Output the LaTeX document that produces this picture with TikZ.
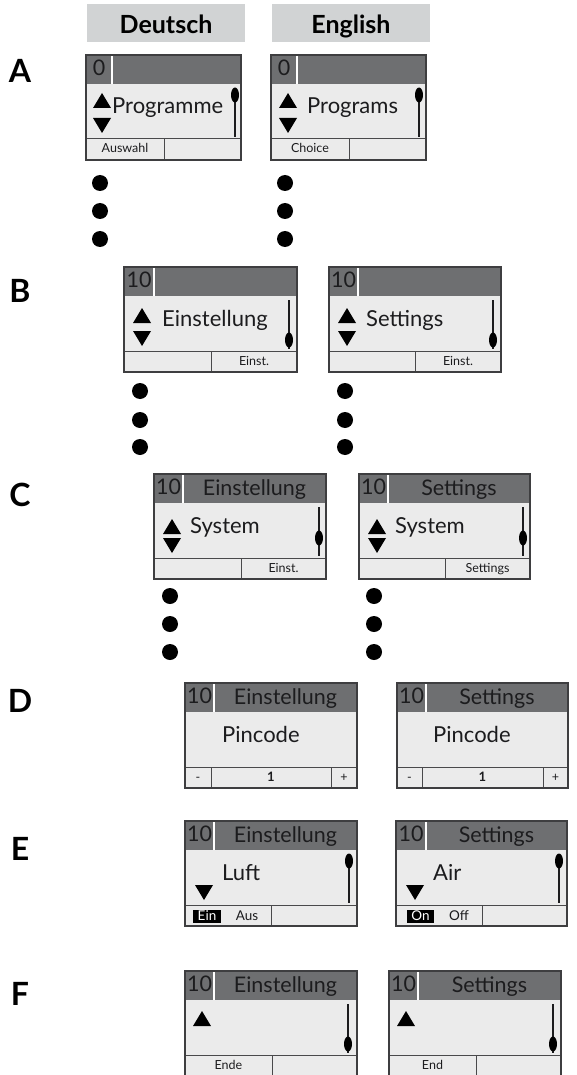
\documentclass[tikz,border=0pt]{standalone}
\usepackage{fontspec}
\setmainfont{Lato}
\definecolor{lcdhead}{RGB}{110,111,113}
\definecolor{lcdbody}{RGB}{235,235,235}
\definecolor{tabgray}{RGB}{209,211,212}
\definecolor{ink}{RGB}{28,28,30}

\tikzset{
  lcdedge/.style={draw=ink!85, line width=1.3pt},
  lcdrule/.style={draw=ink!80, line width=1pt},
  scrollline/.style={draw=ink, line width=1.3pt},
  hdtxt/.style={font=\fontsize{21.5}{25}\selectfont, text=ink, inner sep=0pt, anchor=base},
  bodytxt/.style={font=\fontsize{22}{26}\selectfont, text=ink, inner sep=0pt, anchor=base west},
  softtxt/.style={font=\fontsize{12.5}{14}\selectfont, text=ink, inner sep=0pt, anchor=base},
  toggletxt/.style={font=\fontsize{13.5}{15}\selectfont, text=ink, inner sep=0pt, anchor=base},
  rowlbl/.style={font=\fontsize{32}{36}\selectfont\bfseries, text=black, inner sep=0pt, anchor=base},
  langlbl/.style={font=\fontsize{25}{30}\selectfont\bfseries, text=black, inner sep=0pt, anchor=base},
  dotmark/.style={fill=black},
}

% display panel: #1 id, #2 width, #3 number cell width, #4 number
\newcommand{\lcdframe}[4]{%
  \fill[lcdbody] (0,0) rectangle (#2,105);
  \fill[lcdhead] (0,0) rectangle (#2,29);
  \draw[white, line width=1.5pt] (#3,0) -- (#3,29);
  \draw[lcdrule] (0,84) -- (#2,84);
  \node[hdtxt] (#1-num) at ({#3/2},20.5) {#4};
}
% header title centred in the space right of the number cell
\newcommand{\lcdtitle}[4]{%
  \node[hdtxt] (#1-title) at ({(#2+#3)/2},21) {#4};
}
% main line of the body
\newcommand{\lcdline}[3]{%
  \node[bodytxt] (#1-line) at (#2,59) {#3};
}
% arrows: #1 left x, #2 top y
\newcommand{\lcdup}[2]{\fill[black] ({#1+9},#2) -- ++(9,15) -- ++(-18,0) -- cycle;}
\newcommand{\lcddown}[2]{\fill[black] (#1,#2) -- ++(18,0) -- ++(-9,15) -- cycle;}
% scroll bar: #1 x, #2 knob centre y
\newcommand{\lcdscroll}[2]{%
  \draw[scrollline] (#1,33) -- (#1,82);
  \fill[black] (#1,#2) ellipse (4 and 7.5);
}
\newcommand{\lcdsplit}[1]{\draw[lcdrule] (#1,84) -- (#1,105);}
\newcommand{\lcdclose}[1]{\draw[lcdedge] (0,0) rectangle (#1,105);}

\begin{document}
\begin{tikzpicture}[x=1pt, y=-1pt]
\useasboundingbox (0,0) rectangle (576,1075);

% language tabs
\fill[tabgray] (87,4) rectangle (245,42);
\node[langlbl] (de) at (166,34) {Deutsch};
\fill[tabgray] (272,4) rectangle (430,42);
\node[langlbl] (en) at (351,34) {English};

% step letters
\node[rowlbl] (rowA) at (20,83) {A};
\node[rowlbl] (rowB) at (20,302) {B};
\node[rowlbl] (rowC) at (20,506) {C};
\node[rowlbl] (rowD) at (20,712) {D};
\node[rowlbl] (rowE) at (20,860) {E};
\node[rowlbl] (rowF) at (20,1005) {F};

% ---- A ----
\begin{scope}[shift={(86,55)}]
  \lcdframe{aL}{155}{26}{0}
  \lcdup{7}{38}\lcddown{7}{63}
  \lcdline{aL}{26}{Programme}
  \lcdscroll{149}{40}
  \lcdsplit{78}
  \node[softtxt] (aL-soft) at (39,98) {Auswahl};
  \lcdclose{155}
\end{scope}
\begin{scope}[shift={(271,55)}]
  \lcdframe{aR}{155}{26}{0}
  \lcdup{8}{38}\lcddown{8}{63}
  \lcdline{aR}{36}{Programs}
  \lcdscroll{148}{40}
  \lcdsplit{78}
  \node[softtxt] (aR-soft) at (39,98) {Choice};
  \lcdclose{155}
\end{scope}

% ---- B ----
\begin{scope}[shift={(124,267)}]
  \lcdframe{bL}{173}{30}{10}
  \lcdup{9}{41}\lcddown{9}{64}
  \lcdline{bL}{38}{Einstellung}
  \lcdscroll{165}{73}
  \lcdsplit{87}
  \node[softtxt] (bL-soft) at (130,98) {Einst.};
  \lcdclose{173}
\end{scope}
\begin{scope}[shift={(329,267)}]
  \lcdframe{bR}{172}{29}{10}
  \lcdup{9}{41}\lcddown{9}{64}
  \lcdline{bR}{37}{Settings}
  \lcdscroll{164}{73}
  \lcdsplit{86}
  \node[softtxt] (bR-soft) at (129,98) {Einst.};
  \lcdclose{172}
\end{scope}

% ---- C ----
\begin{scope}[shift={(154,474)}]
  \lcdframe{cL}{172}{29}{10}
  \lcdtitle{cL}{172}{29}{Einstellung}
  \lcdup{9}{45}\lcddown{9}{64}
  \lcdline{cL}{36}{System}
  \lcdscroll{165}{64}
  \lcdsplit{87}
  \node[softtxt] (cL-soft) at (129.5,98) {Einst.};
  \lcdclose{172}
\end{scope}
\begin{scope}[shift={(359,474)}]
  \lcdframe{cR}{171}{29}{10}
  \lcdtitle{cR}{171}{29}{Settings}
  \lcdup{9}{45}\lcddown{9}{64}
  \lcdline{cR}{36}{System}
  \lcdscroll{164}{64}
  \lcdsplit{86}
  \node[softtxt] (cR-soft) at (128.5,98) {Settings};
  \lcdclose{171}
\end{scope}

% ---- D ----
\begin{scope}[shift={(185,683)}]
  \lcdframe{dL}{172}{29}{10}
  \lcdtitle{dL}{172}{29}{Einstellung}
  \lcdline{dL}{37}{Pincode}
  \lcdsplit{26}\lcdsplit{146}
  \node[softtxt] (dL-minus) at (13,98) {-};
  \node[softtxt, font=\fontsize{13}{14}\selectfont\bfseries] (dL-val) at (86,98) {1};
  \node[softtxt] (dL-plus) at (159,98) {+};
  \lcdclose{172}
\end{scope}
\begin{scope}[shift={(397,683)}]
  \lcdframe{dR}{171}{29}{10}
  \lcdtitle{dR}{171}{29}{Settings}
  \lcdline{dR}{36}{Pincode}
  \lcdsplit{25}\lcdsplit{146}
  \node[softtxt] (dR-minus) at (12.5,98) {-};
  \node[softtxt, font=\fontsize{13}{14}\selectfont\bfseries] (dR-val) at (85.5,98) {1};
  \node[softtxt] (dR-plus) at (158.5,98) {+};
  \lcdclose{171}
\end{scope}

% ---- E ----
\begin{scope}[shift={(185,821)}]
  \lcdframe{eL}{172}{29}{10}
  \lcdtitle{eL}{172}{29}{Einstellung}
  \lcddown{10}{64}
  \lcdline{eL}{37}{Luft}
  \lcdscroll{164}{40}
  \lcdsplit{86}
  \fill[black] (8,88.5) rectangle (36,101.5);
  \node[toggletxt, text=white] (eL-on) at (22,99.5) {Ein};
  \node[toggletxt] (eL-off) at (62,99.5) {Aus};
  \lcdclose{172}
\end{scope}
\begin{scope}[shift={(396,821)}]
  \lcdframe{eR}{171}{30}{10}
  \lcdtitle{eR}{171}{30}{Settings}
  \lcddown{10}{64}
  \lcdline{eR}{37}{Air}
  \lcdscroll{163}{40}
  \lcdsplit{86}
  \fill[black] (11,88.5) rectangle (38,101.5);
  \node[toggletxt, text=white] (eR-on) at (24.5,99.5) {On};
  \node[toggletxt] (eR-off) at (63,99.5) {Off};
  \lcdclose{171}
\end{scope}

% ---- F ----
\begin{scope}[shift={(185,971)}]
  \lcdframe{fL}{172}{29}{10}
  \lcdtitle{fL}{172}{29}{Einstellung}
  \lcdup{8}{40}
  \lcdscroll{163}{73}
  \lcdsplit{87}
  \node[softtxt] (fL-soft) at (43.5,98) {Ende};
  \lcdclose{172}
\end{scope}
\begin{scope}[shift={(389,971)}]
  \lcdframe{fR}{172}{29}{10}
  \lcdtitle{fR}{172}{29}{Settings}
  \lcdup{8}{40}
  \lcdscroll{164}{73}
  \lcdsplit{87}
  \node[softtxt] (fR-soft) at (43.5,98) {End};
  \lcdclose{172}
\end{scope}

% continuation dots
\foreach \yy in {183,211,239} {
  \fill[dotmark] (100,\yy) circle (8);
  \fill[dotmark] (285,\yy) circle (8);
}
\foreach \yy in {391,420,447} {
  \fill[dotmark] (140,\yy) circle (8);
  \fill[dotmark] (345,\yy) circle (8);
}
\foreach \yy in {596,624,652} {
  \fill[dotmark] (170,\yy) circle (8);
  \fill[dotmark] (374,\yy) circle (8);
}
\end{tikzpicture}
\end{document}
